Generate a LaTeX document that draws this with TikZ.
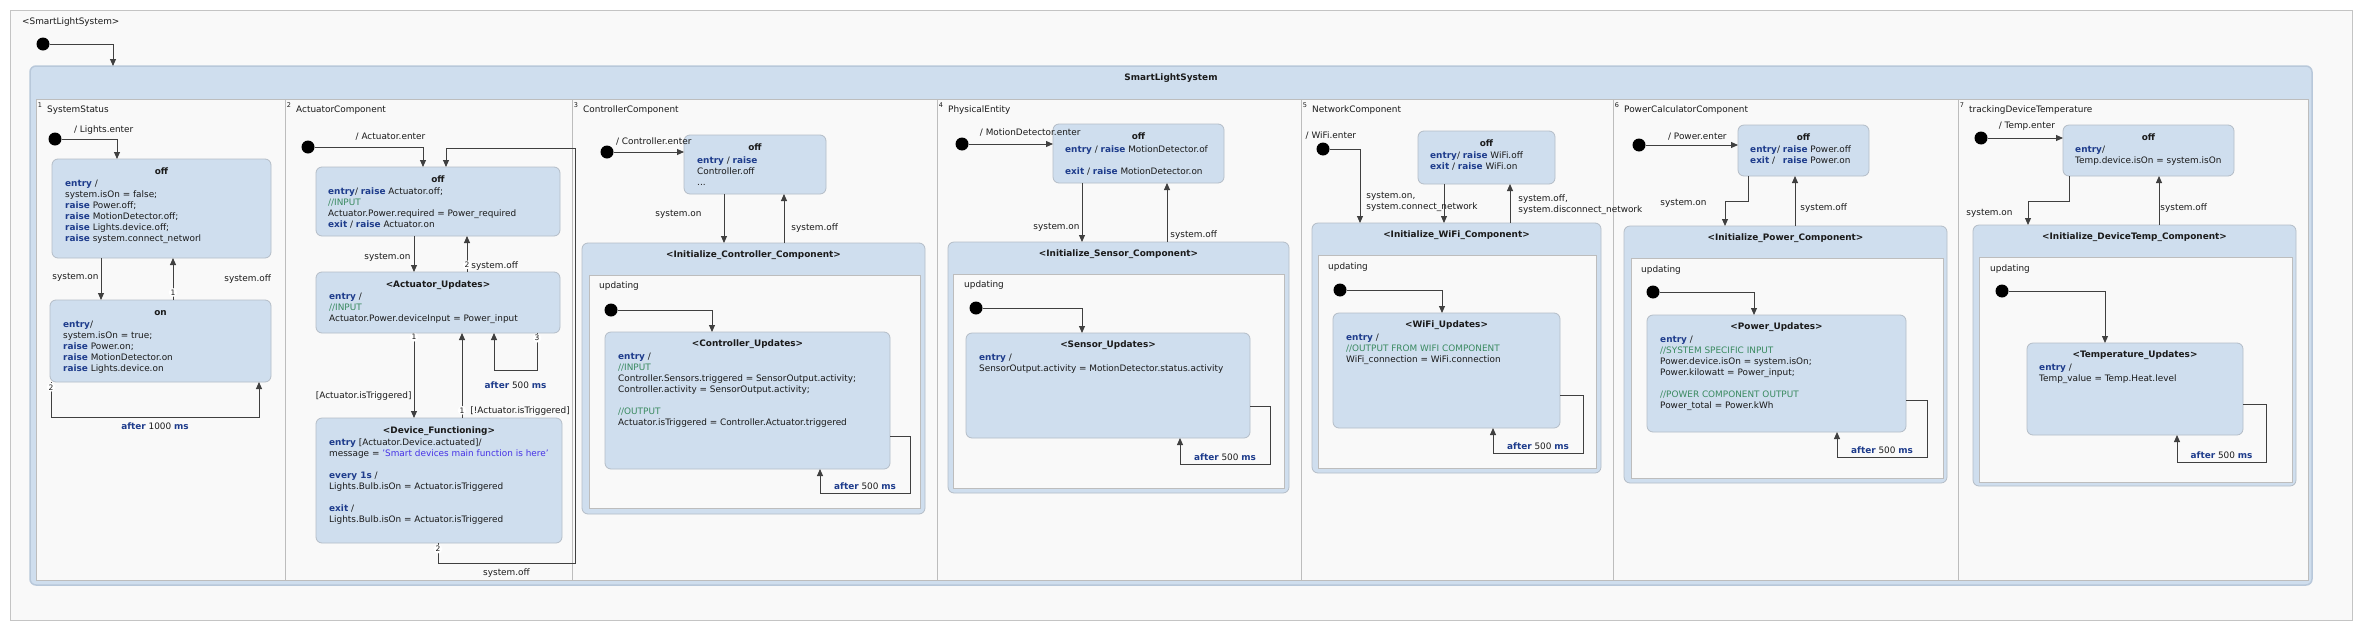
\documentclass[tikz,border=0pt]{standalone}
\usepackage{fontspec}
\setmainfont{DejaVu Sans}
\usetikzlibrary{arrows.meta,positioning}

\definecolor{stfill}{HTML}{CFDEEE}
\definecolor{stline}{HTML}{B4BDC7}
\definecolor{mainline}{HTML}{B8C8DA}
\definecolor{bgc}{HTML}{F9F9F9}
\definecolor{framec}{HTML}{C4C4C4}
\definecolor{regline}{HTML}{BDBDBD}
\definecolor{kwc}{HTML}{1E3C8C}
\definecolor{cmc}{HTML}{3A8A60}
\definecolor{strc}{HTML}{4632E6}
\definecolor{arc}{HTML}{404040}
\definecolor{txtc}{HTML}{1A1A1A}

\newcommand{\kwd}[1]{\textcolor{kwc}{\textbf{#1}}}
\newcommand{\cmt}[1]{\textcolor{cmc}{#1}}
\newcommand{\strg}[1]{\textcolor{strc}{#1}}

\tikzset{
  st/.style={draw=stline, fill=stfill, line width=0.8pt, rounded corners=6pt, anchor=north west, inner sep=0pt, outer sep=0pt},
  topst/.style={draw=mainline, fill=stfill, line width=1.5pt, rounded corners=6pt, anchor=north west, inner sep=0pt, outer sep=0pt},
  reg/.style={draw=regline, fill=bgc, line width=0.7pt, anchor=north west, inner sep=0pt, outer sep=0pt},
  ttl/.style={font=\fontsize{8.9}{11}\selectfont\bfseries, anchor=base, inner sep=0pt},
  body/.style={anchor=north west, align=left, inner sep=0pt},
  lab/.style={inner sep=1pt},
  rnum/.style={inner sep=0pt, font=\fontsize{6.5}{7}\selectfont},
  num/.style={circle, fill=white, inner sep=0.5pt, minimum size=8pt, font=\fontsize{7.5}{8}\selectfont},
  initdot/.style={circle, fill=black, minimum size=13pt, inner sep=0pt},
  tr/.style={draw=arc, line width=0.9pt, -{Triangle[length=7pt,width=6pt]}}
}

\begin{document}
\begin{tikzpicture}[x=1pt, y=-1pt, font=\fontsize{8.9}{11}\selectfont, text=txtc]
  \fill[white] (0,0) rectangle (2362,635);
  \useasboundingbox (0,0) rectangle (2362,635);
  \draw[draw=framec, fill=bgc, line width=0.8pt] (10,10) rectangle (2352,620);
  \node[lab, anchor=west] (sysname) at (21,22) {<SmartLightSystem>};

  \node[topst, minimum width=2282, minimum height=519] (sls) at (30,66) {};
  \node[ttl] at ([yshift=-14]sls.north) {SmartLightSystem};
  \node[initdot] (i0) at (43,44) {};
  \draw[tr] (i0) -| (sls.north -| 113,0);

  \node[reg, minimum width=249, minimum height=481] (r1) at (36,99) {};
  \node[reg, minimum width=287, minimum height=481] (r2) at (285,99) {};
  \node[reg, minimum width=365, minimum height=481] (r3) at (572,99) {};
  \node[reg, minimum width=364, minimum height=481] (r4) at (937,99) {};
  \node[reg, minimum width=312, minimum height=481] (r5) at (1301,99) {};
  \node[reg, minimum width=345, minimum height=481] (r6) at (1613,99) {};
  \node[reg, minimum width=350, minimum height=481] (r7) at (1958,99) {};
  \node[rnum] at ([xshift=4,yshift=-6]r1.north west) {1};
  \node[lab, anchor=west] at ([xshift=10,yshift=-11]r1.north west) {SystemStatus};
  \node[rnum] at ([xshift=4,yshift=-6]r2.north west) {2};
  \node[lab, anchor=west] at ([xshift=10,yshift=-11]r2.north west) {ActuatorComponent};
  \node[rnum] at ([xshift=4,yshift=-6]r3.north west) {3};
  \node[lab, anchor=west] at ([xshift=10,yshift=-11]r3.north west) {ControllerComponent};
  \node[rnum] at ([xshift=4,yshift=-6]r4.north west) {4};
  \node[lab, anchor=west] at ([xshift=10,yshift=-11]r4.north west) {PhysicalEntity};
  \node[rnum] at ([xshift=4,yshift=-6]r5.north west) {5};
  \node[lab, anchor=west] at ([xshift=10,yshift=-11]r5.north west) {NetworkComponent};
  \node[rnum] at ([xshift=4,yshift=-6]r6.north west) {6};
  \node[lab, anchor=west] at ([xshift=10,yshift=-11]r6.north west) {PowerCalculatorComponent};
  \node[rnum] at ([xshift=4,yshift=-6]r7.north west) {7};
  \node[lab, anchor=west] at ([xshift=10,yshift=-11]r7.north west) {trackingDeviceTemperature};

  \node[initdot] (i1) at (55,139) {};
  \node[st, minimum width=219, minimum height=99] (ssOff) at (52,159) {};
  \node[ttl] at ([yshift=-15]ssOff.north) {off};
  \node[body] at ([xshift=13,yshift=-21]ssOff.north west) {\kwd{entry} /\\ system.isOn = false;\\ \kwd{raise} Power.off;\\ \kwd{raise} MotionDetector.off;\\ \kwd{raise} Lights.device.off;\\ \kwd{raise} system.connect\_networl};
  \node[st, minimum width=221, minimum height=82] (ssOn) at (50,300) {};
  \node[ttl] at ([yshift=-15]ssOn.north) {on};
  \node[body] at ([xshift=13,yshift=-21]ssOn.north west) {\kwd{entry}/\\ system.isOn = true;\\ \kwd{raise} Power.on;\\ \kwd{raise} MotionDetector.on\\ \kwd{raise} Lights.device.on};
  \draw[tr] (i1) -| node[lab, pos=0.38, above=3pt] {/ Lights.enter} (ssOff.north -| 117,0);
  \draw[tr] (ssOff.south -| 101,0) -- node[lab, pos=0.45, left=1pt] {system.on} (ssOn.north -| 101,0);
  \draw[tr] (ssOn.north -| 173,0) -- node[num, pos=0.18] {1} node[lab, pos=0.5, right=50pt] {system.off} (ssOff.south -| 173,0);
  \draw[tr] (ssOn.south -| 51,0) -- node[num, pos=0.15] {2} (51,417) -| node[lab, pos=0.25, below=4pt] {\kwd{after} 1000 \kwd{ms}} (ssOn.south -| 259,0);

  \node[initdot] (i2) at (308,147) {};
  \node[st, minimum width=244, minimum height=69] (acOff) at (316,167) {};
  \node[ttl] at ([yshift=-15]acOff.north) {off};
  \node[body] at ([xshift=12,yshift=-21]acOff.north west) {\kwd{entry}/ \kwd{raise} Actuator.off;\\ \cmt{//INPUT}\\ Actuator.Power.required = Power\_required\\ \kwd{exit} / \kwd{raise} Actuator.on};
  \node[st, minimum width=244, minimum height=61] (acUpd) at (316,272) {};
  \node[ttl] at ([yshift=-15]acUpd.north) {<Actuator\_Updates>};
  \node[body] at ([xshift=13,yshift=-21]acUpd.north west) {\kwd{entry} /\\ \cmt{//INPUT}\\ Actuator.Power.deviceInput = Power\_input};
  \node[st, minimum width=246, minimum height=125] (acDev) at (316,418) {};
  \node[ttl] at ([yshift=-15]acDev.north) {<Device\_Functioning>};
  \node[body] at ([xshift=13,yshift=-21]acDev.north west) {\kwd{entry} [Actuator.Device.actuated]/\\ message = \strg{'Smart devices main function is here'}\\[11pt] \kwd{every 1s} /\\ Lights.Bulb.isOn = Actuator.isTriggered\\[11pt] \kwd{exit} /\\ Lights.Bulb.isOn = Actuator.isTriggered};
  \draw[tr] (i2) -| node[lab, pos=0.35, above=5pt] {/ Actuator.enter} (acOff.north -| 423,0);
  \draw[tr] (acOff.south -| 414,0) -- node[lab, pos=0.6, left=2pt] {system.on} (acUpd.north -| 414,0);
  \draw[tr] (acUpd.north -| 467,0) -- node[num, pos=0.2] {2} node[lab, pos=0.17, right=3pt] {system.off} (acOff.south -| 467,0);
  \draw[tr] (acUpd.south -| 414,0) -- node[num, pos=0.05] {1} node[lab, pos=0.74, left=1pt] {[Actuator.isTriggered]} (acDev.north -| 414,0);
  \draw[tr] (acDev.north -| 462,0) -- node[num, pos=0.09] {1} node[lab, pos=0.08, right=7pt] {[!Actuator.isTriggered]} (acUpd.south -| 462,0);
  \draw[tr] (acUpd.south -| 537,0) -- node[num, pos=0.14] {3} (537,370) -| node[lab, pos=0.25, below=10pt] {\kwd{after} 500 \kwd{ms}} (acUpd.south -| 494,0);
  \draw[tr] (acDev.south -| 438,0) -- node[num, pos=0.3] {2} (438,563) -- node[lab, pos=0.5, below=4pt] {system.off} (575,563) -- (575,148) -| (acOff.north -| 446,0);

  \node[initdot] (i3) at (607,152) {};
  \node[st, minimum width=142, minimum height=59] (ctOff) at (684,135) {};
  \node[ttl] at ([yshift=-15]ctOff.north) {off};
  \node[body] at ([xshift=13,yshift=-22]ctOff.north west) {\kwd{entry} / \kwd{raise}\\ Controller.off\\ ...};
  \node[st, minimum width=343, minimum height=271] (ctInit) at (582,243) {};
  \node[ttl] at ([yshift=-14]ctInit.north) {<Initialize\_Controller\_Component>};
  \node[reg, minimum width=331, minimum height=233] (ctReg) at (589,275) {};
  \node[lab, anchor=west] at ([xshift=9,yshift=-11]ctReg.north west) {updating};
  \node[initdot] (i3b) at (611,310) {};
  \node[st, minimum width=285, minimum height=137] (ctU) at (605,332) {};
  \node[ttl] at ([yshift=-14]ctU.north) {<Controller\_Updates>};
  \node[body] at ([xshift=13,yshift=-21]ctU.north west) {\kwd{entry} /\\ \cmt{//INPUT}\\ Controller.Sensors.triggered = SensorOutput.activity;\\ Controller.activity = SensorOutput.activity;\\[11pt] \cmt{//OUTPUT}\\ Actuator.isTriggered = Controller.Actuator.triggered};
  \draw[tr] (i3) -- node[lab, pos=0.57, above=5pt] {/ Controller.enter} (ctOff.west |- i3);
  \draw[tr] (ctOff.south -| 724,0) -- node[lab, pos=0.41, left=21pt] {system.on} (ctInit.north -| 724,0);
  \draw[tr] (ctInit.north -| 784,0) -- node[lab, pos=0.3, right=6pt] {system.off} (ctOff.south -| 784,0);
  \draw[tr] (i3b) -| (ctU.north -| 712,0);
  \draw[tr] (ctU.east |- 0,436) -| (910,493) -| node[lab, pos=0.25, above=2pt] {\kwd{after} 500 \kwd{ms}} (ctU.south -| 820,0);

  \node[initdot] (i4) at (962,144) {};
  \node[st, minimum width=171, minimum height=59] (seOff) at (1053,124) {};
  \node[ttl] at ([yshift=-15]seOff.north) {off};
  \node[body] at ([xshift=12,yshift=-22]seOff.north west) {\kwd{entry} / \kwd{raise} MotionDetector.of\\[11pt] \kwd{exit} / \kwd{raise} MotionDetector.on};
  \node[st, minimum width=341, minimum height=251] (seInit) at (948,242) {};
  \node[ttl] at ([yshift=-14]seInit.north) {<Initialize\_Sensor\_Component>};
  \node[reg, minimum width=331, minimum height=214] (seReg) at (953,274) {};
  \node[lab, anchor=west] at ([xshift=10,yshift=-11]seReg.north west) {updating};
  \node[initdot] (i4b) at (976,308) {};
  \node[st, minimum width=284, minimum height=105] (seU) at (966,333) {};
  \node[ttl] at ([yshift=-14]seU.north) {<Sensor\_Updates>};
  \node[body] at ([xshift=13,yshift=-21]seU.north west) {\kwd{entry} /\\ SensorOutput.activity = MotionDetector.status.activity};
  \draw[tr] (i4) -- node[lab, pos=0.73, above=6pt] {/ MotionDetector.enter} (seOff.west |- i4);
  \draw[tr] (seOff.south -| 1082,0) -- node[lab, pos=0.75, left=1pt] {system.on} (seInit.north -| 1082,0);
  \draw[tr] (seInit.north -| 1167,0) -- node[lab, pos=0.12, right=2pt] {system.off} (seOff.south -| 1167,0);
  \draw[tr] (i4b) -| (seU.north -| 1082,0);
  \draw[tr] (seU.east |- 0,406) -| (1270,464) -| node[lab, pos=0.25, above=2pt] {\kwd{after} 500 \kwd{ms}} (seU.south -| 1180,0);

  \node[initdot] (i5) at (1323,149) {};
  \node[st, minimum width=137, minimum height=53] (wfOff) at (1418,131) {};
  \node[ttl] at ([yshift=-15]wfOff.north) {off};
  \node[body] at ([xshift=12,yshift=-21]wfOff.north west) {\kwd{entry}/ \kwd{raise} WiFi.off\\ \kwd{exit} / \kwd{raise} WiFi.on};
  \node[st, minimum width=289, minimum height=250] (wfInit) at (1312,223) {};
  \node[ttl] at ([yshift=-14]wfInit.north) {<Initialize\_WiFi\_Component>};
  \node[reg, minimum width=278, minimum height=213] (wfReg) at (1318,255) {};
  \node[lab, anchor=west] at ([xshift=9,yshift=-12]wfReg.north west) {updating};
  \node[initdot] (i5b) at (1340,290) {};
  \node[st, minimum width=227, minimum height=115] (wfU) at (1333,313) {};
  \node[ttl] at ([yshift=-14]wfU.north) {<WiFi\_Updates>};
  \node[body] at ([xshift=13,yshift=-21]wfU.north west) {\kwd{entry} /\\ \cmt{//OUTPUT FROM WIFI COMPONENT}\\ WiFi\_connection = WiFi.connection};
  \draw[tr] (i5) -| node[lab, pos=0.02, above=8pt] {/ WiFi.enter} (wfInit.north -| 1360,0);
  \draw[tr] (wfOff.south -| 1444,0) -- node[lab, pos=0.45, anchor=west, xshift=-79, align=left] {system.on,\\system.connect\_network} (wfInit.north -| 1444,0);
  \draw[tr] (wfInit.north -| 1510,0) -- node[lab, pos=0.47, anchor=west, xshift=7, align=left] {system.off,\\system.disconnect\_network} (wfOff.south -| 1510,0);
  \draw[tr] (i5b) -| (wfU.north -| 1442,0);
  \draw[tr] (wfU.east |- 0,395) -| (1583,453) -| node[lab, pos=0.25, above=2pt] {\kwd{after} 500 \kwd{ms}} (wfU.south -| 1493,0);

  \node[initdot] (i6) at (1639,145) {};
  \node[st, minimum width=131, minimum height=51] (pwOff) at (1738,125) {};
  \node[ttl] at ([yshift=-15]pwOff.north) {off};
  \node[body] at ([xshift=12,yshift=-21]pwOff.north west) {\kwd{entry}/ \kwd{raise} Power.off\\ \rlap{\kwd{exit} /}\phantom{\kwd{entry}/ }\kwd{raise} Power.on};
  \node[st, minimum width=323, minimum height=257] (pwInit) at (1624,226) {};
  \node[ttl] at ([yshift=-14]pwInit.north) {<Initialize\_Power\_Component>};
  \node[reg, minimum width=312, minimum height=220] (pwReg) at (1631,258) {};
  \node[lab, anchor=west] at ([xshift=9,yshift=-12]pwReg.north west) {updating};
  \node[initdot] (i6b) at (1653,292) {};
  \node[st, minimum width=259, minimum height=117] (pwU) at (1647,315) {};
  \node[ttl] at ([yshift=-14]pwU.north) {<Power\_Updates>};
  \node[body] at ([xshift=13,yshift=-21]pwU.north west) {\kwd{entry} /\\ \cmt{//SYSTEM SPECIFIC INPUT}\\ Power.device.isOn = system.isOn;\\ Power.kilowatt = Power\_input;\\[11pt] \cmt{//POWER COMPONENT OUTPUT}\\ Power\_total = Power.kWh};
  \draw[tr] (i6) -- node[lab, pos=0.56, above=3pt] {/ Power.enter} (pwOff.west |- i6);
  \draw[tr] (pwOff.south -| 1748,0) |- node[lab, pos=1, anchor=east, xshift=-17, yshift=-2] {system.on} (1725,201) -- (pwInit.north -| 1725,0);
  \draw[tr] (pwInit.north -| 1795,0) -- node[lab, pos=0.36, right=4pt] {system.off} (pwOff.south -| 1795,0);
  \draw[tr] (i6b) -| (pwU.north -| 1754,0);
  \draw[tr] (pwU.east |- 0,400) -| (1927,457) -| node[lab, pos=0.25, above=2pt] {\kwd{after} 500 \kwd{ms}} (pwU.south -| 1837,0);

  \node[initdot] (i7) at (1981,138) {};
  \node[st, minimum width=171, minimum height=51] (tpOff) at (2063,125) {};
  \node[ttl] at ([yshift=-15]tpOff.north) {off};
  \node[body] at ([xshift=12,yshift=-21]tpOff.north west) {\kwd{entry}/\\ Temp.device.isOn = system.isOn};
  \node[st, minimum width=323, minimum height=261] (tpInit) at (1973,225) {};
  \node[ttl] at ([yshift=-14]tpInit.north) {<Initialize\_DeviceTemp\_Component>};
  \node[reg, minimum width=313, minimum height=225] (tpReg) at (1979,257) {};
  \node[lab, anchor=west] at ([xshift=10,yshift=-12]tpReg.north west) {updating};
  \node[initdot] (i7b) at (2002,291) {};
  \node[st, minimum width=216, minimum height=92] (tpU) at (2027,343) {};
  \node[ttl] at ([yshift=-14]tpU.north) {<Temperature\_Updates>};
  \node[body] at ([xshift=12,yshift=-21]tpU.north west) {\kwd{entry} /\\ Temp\_value = Temp.Heat.level};
  \draw[tr] (i7) -- node[lab, pos=0.52, above=6pt] {/ Temp.enter} (tpOff.west |- i7);
  \draw[tr] (tpOff.south -| 2069,0) |- (2028,201) -- node[lab, pos=0.5, left=14pt] {system.on} (tpInit.north -| 2028,0);
  \draw[tr] (tpInit.north -| 2159,0) -- node[lab, pos=0.35, right=0pt] {system.off} (tpOff.south -| 2159,0);
  \draw[tr] (i7b) -| (tpU.north -| 2105,0);
  \draw[tr] (tpU.east |- 0,404) -| (2266,462) -| node[lab, pos=0.25, above=2pt] {\kwd{after} 500 \kwd{ms}} (tpU.south -| 2177,0);
\end{tikzpicture}
\end{document}
